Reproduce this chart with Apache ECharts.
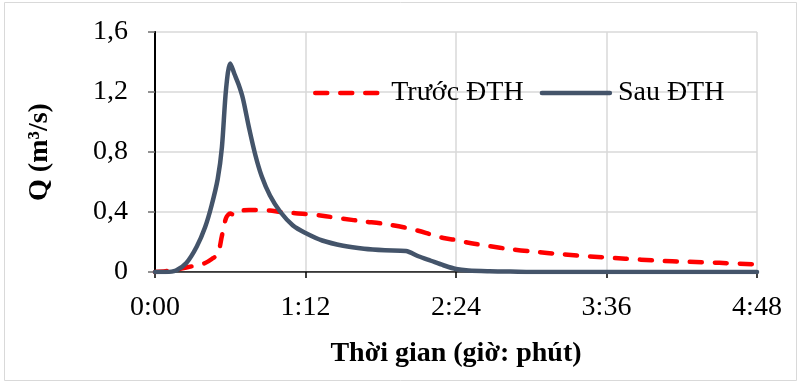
<!DOCTYPE html>
<html>
<head>
<meta charset="utf-8">
<script src="https://cdn.jsdelivr.net/npm/echarts@6/dist/echarts.min.js"></script>
<style>
  html, body { margin: 0; padding: 0; background: #fff; }
  #chart { width: 800px; height: 384px; }
</style>
</head>
<body>
<div id="chart"></div>
<script>
// Time in minutes since the start of the event
const minutes = [0, 5, 10, 15, 20, 24, 27, 30, 32, 34, 36, 38, 40, 42, 45, 48, 51, 55, 60, 66, 72, 80, 90, 100, 110, 120, 126, 132, 138, 144, 150, 160, 170, 180, 195, 210, 225, 240, 255, 270, 288];

// Discharge Q (m3/s) before urbanisation
const truocDTH = [0, 0.005, 0.015, 0.03, 0.045, 0.06, 0.085, 0.12, 0.24, 0.36, 0.39, 0.38, 0.40, 0.41, 0.413, 0.413, 0.412, 0.41, 0.40, 0.393, 0.387, 0.375, 0.355, 0.337, 0.32, 0.295, 0.275, 0.25, 0.227, 0.213, 0.195, 0.172, 0.152, 0.137, 0.118, 0.102, 0.089, 0.076, 0.068, 0.061, 0.05];

// Discharge Q (m3/s) after urbanisation
const sauDTH = [0, 0, 0.01, 0.06, 0.17, 0.30, 0.44, 0.62, 0.83, 1.22, 1.39, 1.32, 1.25, 1.16, 0.96, 0.78, 0.64, 0.51, 0.40, 0.31, 0.26, 0.21, 0.175, 0.155, 0.145, 0.14, 0.105, 0.075, 0.045, 0.02, 0.01, 0.005, 0.003, 0, 0, 0, 0, 0, 0, 0, 0];

const seriesNames = ['Trước ĐTH', 'Sau ĐTH'];
const xTicks = [0, 72, 144, 216, 288];
const yTicks = [0, 0.4, 0.8, 1.2, 1.6];

const pairs = vals => minutes.map((t, i) => [t, vals[i]]);
const fmtTime = v => Math.floor(v / 60) + ':' + String(Math.round(v % 60)).padStart(2, '0');
const fmtNum = v => (Math.round(v * 10) / 10).toString().replace('.', ',');

const FONT = '"Liberation Serif", "Times New Roman", serif';
const FS = 28;

const chart = echarts.init(document.getElementById('chart'), null, { renderer: 'canvas' });
chart.setOption({
  animation: false,
  backgroundColor: '#fff',
  graphic: [{
    type: 'rect',
    shape: { x: 4.5, y: 2.5, width: 792, height: 378 },
    style: { fill: 'none', stroke: '#d9d9d9', lineWidth: 1 },
    silent: true
  }],
  grid: { left: 155, right: 43, top: 32, bottom: 112 },
  legend: {
    data: seriesNames,
    left: 308,
    top: 74,
    itemWidth: 68,
    itemHeight: 28,
    itemGap: 16,
    itemStyle: { opacity: 0 },
    lineStyle: { width: 4.5, cap: 'round' },
    textStyle: { fontFamily: FONT, fontSize: FS, color: '#000', padding: [0, 0, 0, 3] }
  },
  xAxis: [{
    type: 'value',
    min: xTicks[0],
    max: xTicks[xTicks.length - 1],
    interval: 72,
    name: 'Thời gian (giờ: phút)',
    nameLocation: 'middle',
    nameGap: 68,
    nameTextStyle: { fontFamily: FONT, fontSize: FS, fontWeight: 'bold', color: '#000' },
    axisLine: { show: true, onZero: false, lineStyle: { color: '#000', width: 1.5 } },
    axisTick: { show: true, length: 6, lineStyle: { color: '#000', width: 1.5 } },
    axisLabel: { formatter: fmtTime, fontFamily: FONT, fontSize: FS, color: '#000', margin: 22 },
    splitLine: { show: true, lineStyle: { color: '#d9d9d9', width: 1.5 } }
  }, {
    type: 'value',
    position: 'top',
    min: 0, max: 288,
    axisLine: { show: true, lineStyle: { color: '#595959', width: 1 } },
    axisTick: { show: false }, axisLabel: { show: false }, splitLine: { show: false }
  }],
  yAxis: [{
    type: 'value',
    min: yTicks[0],
    max: yTicks[yTicks.length - 1],
    interval: 0.4,
    name: 'Q (m³/s)',
    nameLocation: 'middle',
    nameGap: 101,
    nameRotate: 90,
    nameTextStyle: { fontFamily: FONT, fontSize: FS, fontWeight: 'bold', color: '#000' },
    axisLine: { show: true, lineStyle: { color: '#6f6f6f', width: 2 } },
    axisTick: { show: true, length: 7, lineStyle: { color: '#6f6f6f', width: 1.5 } },
    axisLabel: { formatter: fmtNum, fontFamily: FONT, fontSize: FS, color: '#000', margin: 27 },
    splitLine: { show: true, lineStyle: { color: '#d9d9d9', width: 1.5 } }
  }, {
    type: 'value',
    position: 'right',
    min: 0, max: 1.6,
    axisLine: { show: true, lineStyle: { color: '#000', width: 2 } },
    axisTick: { show: false }, axisLabel: { show: false }, splitLine: { show: false }
  }],
  series: [{
    name: seriesNames[0],
    type: 'line',
    data: pairs(truocDTH),
    showSymbol: false,
    symbol: 'none',
    smooth: 0.3,
    color: '#ff0000',
    lineStyle: { color: '#ff0000', width: 4.5, type: [12, 13], cap: 'round', join: 'round' },
    z: 3
  }, {
    name: seriesNames[1],
    type: 'line',
    data: pairs(sauDTH),
    showSymbol: false,
    symbol: 'none',
    smooth: 0.3,
    color: '#44546a',
    lineStyle: { color: '#44546a', width: 4.5, cap: 'round', join: 'round' },
    z: 4
  }]
});
</script>
</body>
</html>
